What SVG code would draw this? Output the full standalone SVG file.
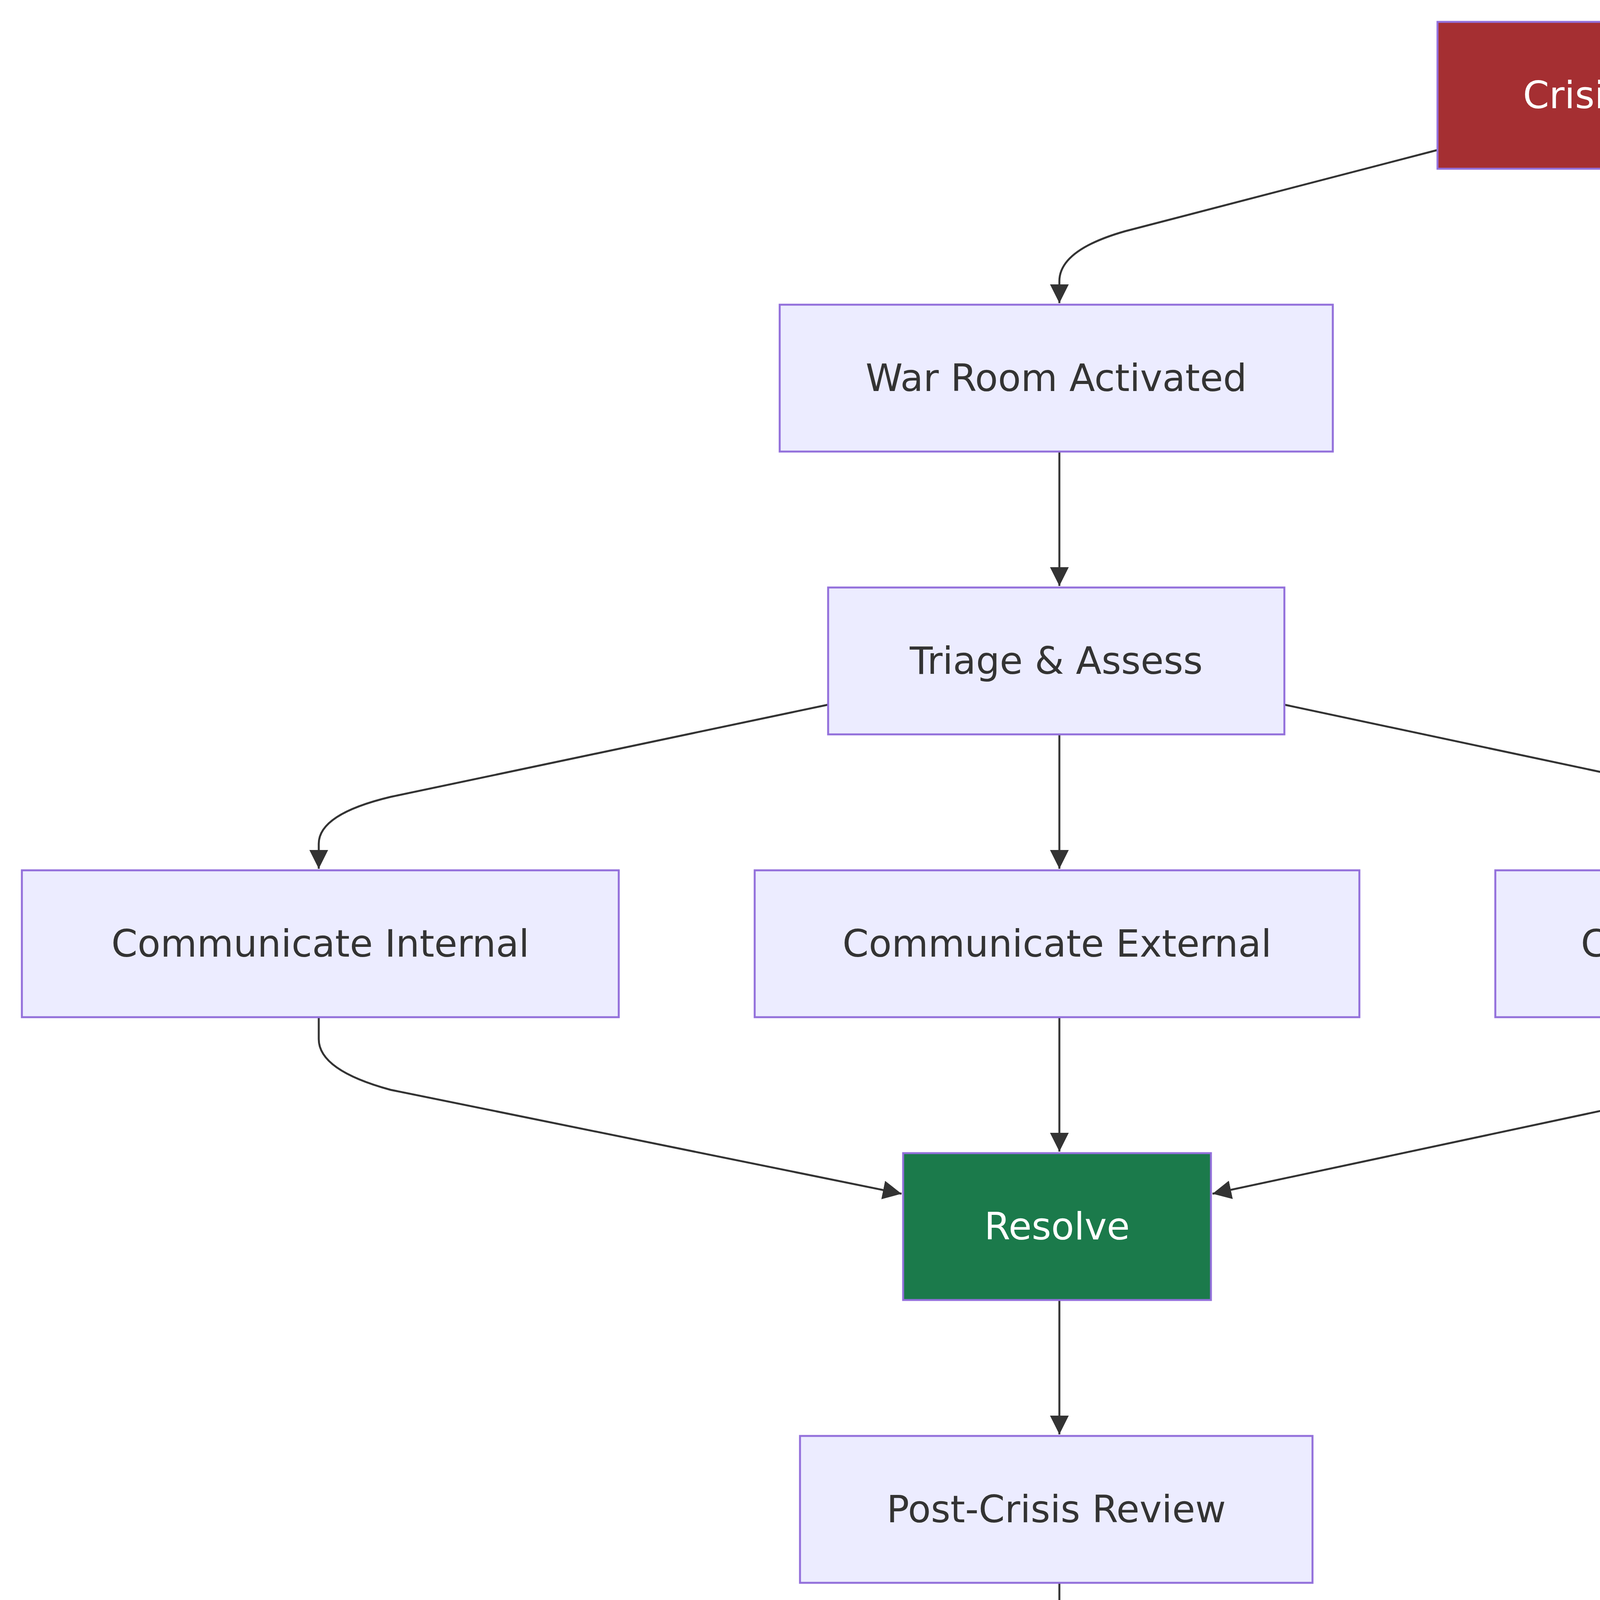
<svg xmlns="http://www.w3.org/2000/svg" width="6272" height="4880" viewBox="0 0 6272 4880">
<style>
.n rect{fill:#ECECFF;stroke:#9370DB;stroke-width:5}
.n text{font-family:"DejaVu Sans","Open Sans",sans-serif;font-size:96px;fill:#333;text-anchor:middle;dominant-baseline:central}
.n.w text{fill:#fff}
.e path{fill:none;stroke:#333;stroke-width:5}
.lbl{font-family:"DejaVu Sans","Open Sans",sans-serif;font-size:96px;fill:#333;text-anchor:middle;dominant-baseline:central}
</style>
<defs>
<marker id="a" markerUnits="userSpaceOnUse" markerWidth="48" markerHeight="48" viewBox="0 0 10 10" refX="10" refY="5" orient="auto">
<path d="M0,0L10,5L0,10z" fill="#333"/>
</marker>
</defs>
<rect width="6272" height="4880" fill="#fff"/>
<g id="edges" class="e">
<path d="M3680,384 L2880,592 Q2712,640 2712,720 L2712,776" marker-end="url(#a)"/>
<path d="M2712,1156 L2712,1500" marker-end="url(#a)"/>
<path d="M2120,1804 L1000,2040 Q816,2084 816,2160 L816,2224" marker-end="url(#a)"/>
<path d="M2712,1880 L2712,2224" marker-end="url(#a)"/>
<path d="M3288,1804 L4350,2030 Q4536,2080 4536,2160 L4536,2224" marker-end="url(#a)"/>
<path d="M816,2604 L816,2660 Q816,2740 1000,2790 L2308,3056" marker-end="url(#a)"/>
<path d="M2712,2604 L2712,2948" marker-end="url(#a)"/>
<path d="M4536,2604 L4536,2660 Q4536,2740 4350,2790 L3104,3056" marker-end="url(#a)"/>
<path d="M2712,3328 L2712,3672" marker-end="url(#a)"/>
<path d="M2712,4052 L2712,4100 Q2712,4200 2900,4250 L3660,4432" marker-end="url(#a)"/>
<path d="M4864,4432 L5640,4250 Q5820,4200 5820,4050 L5820,920 Q5820,780 5640,730 L4852,384" marker-end="url(#a)"/>
<rect x="5492" y="2340" width="656" height="160" fill="#e8e8e8"/>
<text class="lbl" x="5820" y="2420">Preparedness</text>
</g>
<g id="crisis" class="n w"><rect x="3680" y="56" width="1168" height="376" style="fill:#A52F32"/><text x="4264" y="244">Crisis Detected</text></g>
<g id="war" class="n"><rect x="1996" y="780" width="1416" height="376"/><text x="2704" y="968">War Room Activated</text></g>
<g id="triage" class="n"><rect x="2120" y="1504" width="1168" height="376"/><text x="2704" y="1692">Triage &amp; Assess</text></g>
<g id="internal" class="n"><rect x="56" y="2228" width="1528" height="376"/><text x="820" y="2416">Communicate Internal</text></g>
<g id="external" class="n"><rect x="1932" y="2228" width="1548" height="376"/><text x="2706" y="2416">Communicate External</text></g>
<g id="board" class="n"><rect x="3828" y="2228" width="1420" height="376"/><text x="4538" y="2416">Communicate Board</text></g>
<g id="resolve" class="n w"><rect x="2312" y="2952" width="788" height="376" style="fill:#1B7A4B"/><text x="2706" y="3140">Resolve</text></g>
<g id="review" class="n"><rect x="2048" y="3676" width="1312" height="376"/><text x="2704" y="3864">Post-Crisis Review</text></g>
<g id="resilience" class="n w"><rect x="3664" y="4400" width="1200" height="372" style="fill:#2D5985"/><text x="4264" y="4586">Build Resilience</text></g>
</svg>
